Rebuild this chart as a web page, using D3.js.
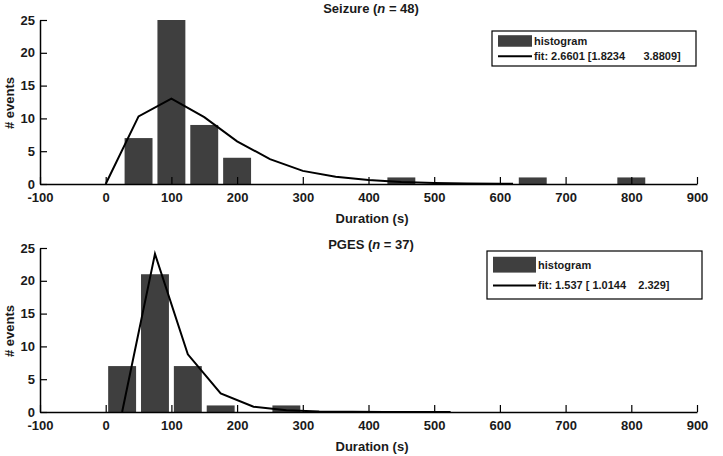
<!DOCTYPE html>
<html>
<head>
<meta charset="utf-8">
<script src="https://cdn.jsdelivr.net/npm/d3@7"></script>
<style>
  body { margin: 0; background: #fff; }
  text { font-family: "Liberation Sans", Arial, sans-serif; font-weight: bold; fill: #1a1a1a; }
</style>
</head>
<body>
<svg id="chart" width="723" height="456"></svg>
<script>
// x ticks shared by both panels
var xTicks = [-100, 0, 100, 200, 300, 400, 500, 600, 700, 800, 900];
var yTicks = [0, 5, 10, 15, 20, 25];

// Seizure histogram (bin centres, counts) and fitted curve
var seizureCentres = [50, 100, 150, 200, 450, 650, 800];
var seizureCounts = [7, 25, 9, 4, 1, 1, 1];
var seizureFitX = [0, 50, 100, 150, 200, 250, 300, 350, 400, 450, 500, 550, 600, 620];
var seizureFitY = [0, 10.3, 13, 10.2, 6.5, 3.8, 2.0, 1.1, 0.6, 0.3, 0.15, 0.08, 0.04, 0.03];

// PGES histogram and fitted curve
var pgesCentres = [25, 75, 125, 175, 275];
var pgesCounts = [7, 21, 7, 1, 1];
var pgesFitX = [25, 75, 125, 175, 225, 275, 325, 375, 425, 475, 525];
var pgesFitY = [0, 24.1, 8.8, 2.85, 0.8, 0.25, 0.08, 0.03, 0.01, 0.005, 0];

var barWidth = 42.5; // in seconds (bin width 50 * 0.85)

var svg = d3.select('#chart');

var xScale = d3.scaleLinear().domain([-100, 900]).range([40, 697]);

function drawPanel(top, titleY, title, n, centres, counts, fitX, fitY, legend) {
    var yScale = d3.scaleLinear().domain([0, 25]).range([top + 164, top]);
    var g = svg.append('g');

    // bars
    g.selectAll('rect.bar')
        .data(centres)
        .enter()
        .append('rect')
        .attr('class', 'bar')
        .attr('x', function (d) { return xScale(d - barWidth / 2); })
        .attr('width', function (d) { return xScale(d + barWidth / 2) - xScale(d - barWidth / 2); })
        .attr('y', function (d, i) { return yScale(counts[i]); })
        .attr('height', function (d, i) { return yScale(0) - yScale(counts[i]); })
        .attr('fill', '#3f3f3f');

    // axes, matlab style: ticks inside
    var xAxis = d3.axisBottom(xScale).tickValues(xTicks).tickFormat(String).tickSize(0).tickPadding(9);
    var gx = g.append('g')
        .attr('transform', 'translate(0,' + yScale(0) + ')')
        .call(xAxis);
    gx.select('.domain').attr('stroke', '#000').attr('stroke-width', 1.5);
    gx.selectAll('.tick text').attr('font-size', 13).attr('fill', '#1a1a1a');
    gx.selectAll('.tick')
        .append('line')
        .attr('y1', 0).attr('y2', -7)
        .attr('stroke', '#000').attr('stroke-width', 1.2);

    var yAxis = d3.axisLeft(yScale).tickValues(yTicks).tickSize(0).tickPadding(5);
    var gy = g.append('g')
        .attr('transform', 'translate(' + xScale(-100) + ',0)')
        .call(yAxis);
    gy.select('.domain').attr('stroke', '#000').attr('stroke-width', 1.5);
    gy.selectAll('.tick text').attr('font-size', 13).attr('fill', '#1a1a1a');
    gy.selectAll('.tick')
        .append('line')
        .attr('x1', 0).attr('x2', 7)
        .attr('stroke', '#000').attr('stroke-width', 1.2);

    // fit curve
    var line = d3.line()
        .x(function (d) { return xScale(d); })
        .y(function (d, i) { return yScale(fitY[i]); });
    g.append('path')
        .datum(fitX)
        .attr('fill', 'none')
        .attr('stroke', '#000')
        .attr('stroke-width', 2)
        .attr('d', line);

    // titles
    var t = g.append('text')
        .attr('x', 371)
        .attr('y', titleY)
        .attr('text-anchor', 'middle')
        .attr('font-size', 13);
    t.append('tspan').text(title + ' (');
    t.append('tspan').attr('font-style', 'italic').text('n');
    t.append('tspan').text(' = ' + n + ')');

    g.append('text')
        .attr('x', 372)
        .attr('y', top + 203)
        .attr('text-anchor', 'middle')
        .attr('font-size', 13)
        .text('Duration (s)');

    g.append('text')
        .attr('transform', 'translate(14,' + (top + 83) + ') rotate(-90)')
        .attr('text-anchor', 'middle')
        .attr('font-size', 13)
        .text('# events');

    // legend
    var lg = g.append('g');
    lg.append('rect')
        .attr('x', legend.x).attr('y', legend.y)
        .attr('width', legend.w).attr('height', legend.h)
        .attr('fill', '#fff').attr('stroke', '#000').attr('stroke-width', 1.2);
    lg.append('rect')
        .attr('x', legend.x + 6).attr('y', legend.y + legend.h * 0.12)
        .attr('width', legend.sw).attr('height', legend.h * 0.33)
        .attr('fill', '#3f3f3f');
    lg.append('line')
        .attr('x1', legend.x + 6).attr('x2', legend.x + 6 + legend.sw)
        .attr('y1', legend.y + legend.h * 0.72).attr('y2', legend.y + legend.h * 0.72)
        .attr('stroke', '#000').attr('stroke-width', 2);
    lg.append('text')
        .attr('x', legend.x + legend.sw + 8).attr('y', legend.y + legend.h * 0.29)
        .attr('dy', '0.35em')
        .attr('font-size', legend.fs)
        .text('histogram');
    lg.append('text')
        .attr('x', legend.x + legend.sw + 8).attr('y', legend.y + legend.h * 0.72)
        .attr('dy', '0.35em')
        .attr('font-size', legend.fs)
        .attr('xml:space', 'preserve')
        .style('white-space', 'pre')
        .text(legend.fit);
}

drawPanel(20, 13, 'Seizure', 48, seizureCentres, seizureCounts, seizureFitX, seizureFitY,
    { x: 492, y: 31, w: 204, h: 35, sw: 34, fs: 11, fit: 'fit: 2.6601 [1.8234      3.8809]' });

drawPanel(248, 249, 'PGES', 37, pgesCentres, pgesCounts, pgesFitX, pgesFitY,
    { x: 487, y: 251, w: 215, h: 48, sw: 43, fs: 11, fit: 'fit: 1.537 [ 1.0144    2.329]' });
</script>
</body>
</html>
